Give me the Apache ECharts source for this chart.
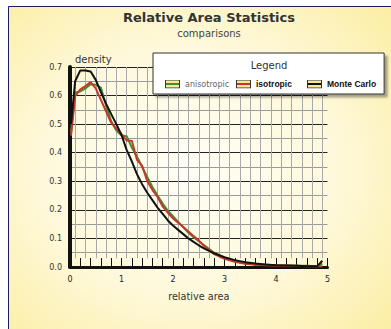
<!DOCTYPE html>
<html>
<head>
<meta charset="utf-8">
<script src="https://cdn.jsdelivr.net/npm/echarts@6/dist/echarts.min.js"></script>
<style>
html,body{margin:0;padding:0;background:#fff;}
#chart{width:391px;height:329px;}
</style>
</head>
<body>
<div id="chart"></div>
<script>
// ---- data ----
var seriesNames = ['anisotropic', 'isotropic', 'Monte Carlo'];
var xs = [0.02, 0.1, 0.2, 0.3, 0.4, 0.5, 0.6, 0.7, 0.8, 0.9, 1.0, 1.1, 1.2, 1.3, 1.4, 1.5, 1.6, 1.7, 1.8, 1.9, 2.0, 2.1, 2.2, 2.3, 2.4, 2.5, 2.6, 2.8, 3.0, 3.2, 3.4, 3.6, 3.8, 4.0, 4.2, 4.4, 4.6, 4.8, 4.9];
var anisotropic = [0.47, 0.61, 0.615, 0.625, 0.64, 0.638, 0.628, 0.565, 0.51, 0.478, 0.46, 0.458, 0.418, 0.386, 0.35, 0.315, 0.28, 0.25, 0.222, 0.197, 0.178, 0.158, 0.139, 0.12, 0.104, 0.09, 0.077, 0.05, 0.032, 0.02, 0.013, 0.009, 0.007, 0.006, 0.005, 0.004, 0.004, 0.003, 0.012];
var isotropic = [0.46, 0.598, 0.622, 0.633, 0.647, 0.625, 0.585, 0.545, 0.505, 0.484, 0.465, 0.443, 0.442, 0.375, 0.355, 0.30, 0.27, 0.245, 0.212, 0.19, 0.17, 0.155, 0.14, 0.124, 0.108, 0.093, 0.074, 0.045, 0.029, 0.018, 0.011, 0.008, 0.006, 0.005, 0.004, 0.004, 0.003, 0.003, 0.003];
var monteCarlo = [0.50, 0.65, 0.688, 0.688, 0.684, 0.655, 0.612, 0.572, 0.535, 0.5, 0.462, 0.41, 0.37, 0.325, 0.29, 0.26, 0.234, 0.208, 0.186, 0.163, 0.145, 0.13, 0.115, 0.1, 0.088, 0.076, 0.065, 0.048, 0.034, 0.024, 0.017, 0.012, 0.009, 0.006, 0.005, 0.004, 0.003, 0.003, 0.022];
var xTickLabels = ['0', '1', '2', '3', '4', '5'];
var yTickLabels = ['0.0', '0.1', '0.2', '0.3', '0.4', '0.5', '0.6', '0.7'];

// ---- styling ----
var colors = ['#3f8f32', '#c8362a', '#111111'];
var seriesData = [anisotropic, isotropic, monteCarlo];

function pairs(ys) { return xs.map(function (x, i) { return [x, ys[i]]; }); }

function iconFor(c) {
  var svg = "<svg xmlns='http://www.w3.org/2000/svg' width='15' height='9'>" +
    "<rect x='0.5' y='0.5' width='14' height='8' fill='#f6e89a' stroke='#333' stroke-width='1'/>" +
    "<line x1='1' y1='4.5' x2='14' y2='4.5' stroke='" + c + "' stroke-width='2'/></svg>";
  return 'image://data:image/svg+xml;charset=utf-8,' + encodeURIComponent(svg);
}

// vertical grid positions (odd tenths)
var vGrid = [];
for (var k = 1; k < 50; k += 2) vGrid.push(k / 10);

var chart = echarts.init(document.getElementById('chart'), null, { renderer: 'svg' });

var series = seriesNames.map(function (n, i) {
  var s = {
    name: n,
    type: 'line',
    data: pairs(seriesData[i]),
    showSymbol: false,
    symbol: 'none',
    lineStyle: { color: colors[i], width: 2 },
    itemStyle: { color: colors[i] },
    animation: false,
    z: 2 + i
  };
  if (i === 0) {
    s.markLine = {
      silent: true,
      z: 1,
      symbol: ['none', 'none'],
      label: { show: false },
      animation: false,
      lineStyle: { color: '#a9a9a9', width: 1, type: 'solid' },
      emphasis: { disabled: true },
      data: vGrid.map(function (v) { return [{ coord: [v, 0.03] }, { coord: [v, 0.7] }]; })
    };
  }
  return s;
});

var fontBold = { fontFamily: 'Liberation Sans', fontWeight: 'bold', fontSize: 8.5, color: '#111', width: 49, lineHeight: 10 };

chart.setOption({
  backgroundColor: '#fff',
  animation: false,
  graphic: [
    {
      type: 'rect', z: -100, silent: true,
      shape: { x: 8.5, y: 6.5, width: 400, height: 340 },
      style: {
        fill: new echarts.graphic.RadialGradient(0.45, 0.48, 0.8, [
          { offset: 0, color: '#fffef6' },
          { offset: 0.45, color: '#fef9dc' },
          { offset: 1, color: '#fbea92' }
        ]),
        stroke: '#1b1b5e', lineWidth: 1
      }
    },
    {
      type: 'text', z: 100, silent: true,
      style: { text: 'Legend', x: 269, y: 65, align: 'center', verticalAlign: 'middle', font: '10px "DejaVu Sans"', fill: '#333' }
    }
  ],
  title: {
    text: 'Relative Area Statistics',
    subtext: 'comparisons',
    left: 204,
    top: 6,
    textAlign: 'center',
    itemGap: 4,
    textStyle: { fontFamily: 'DejaVu Sans', fontWeight: 'bold', fontSize: 13, color: '#333' },
    subtextStyle: { fontFamily: 'DejaVu Sans', fontSize: 10, color: '#444' }
  },
  legend: {
    left: 153,
    top: 53,
    orient: 'horizontal',
    padding: [26, 8, 5, 12],
    itemWidth: 15,
    itemHeight: 9,
    itemGap: 2,
    selectedMode: false,
    backgroundColor: '#fff',
    borderColor: '#333',
    borderWidth: 1,
    shadowColor: 'rgba(0,0,0,0.35)',
    shadowBlur: 2,
    shadowOffsetX: 3,
    shadowOffsetY: 3,
    textStyle: fontBold,
    data: seriesNames.map(function (n, i) {
      var d = { name: n, icon: iconFor(colors[i]) };
      if (i === 0) d.textStyle = { fontFamily: 'DejaVu Sans', fontWeight: 'normal', fontSize: 8, color: '#666', width: 49, lineHeight: 10 };
      return d;
    })
  },
  grid: { left: 70, right: 63.5, top: 67, bottom: 62, containLabel: false },
  xAxis: {
    type: 'value',
    min: 0, max: 5, interval: 1,
    name: 'relative area',
    nameLocation: 'middle',
    nameGap: 24,
    nameTextStyle: { fontFamily: 'DejaVu Sans', fontSize: 9.7, color: '#333' },
    axisLine: { show: true, onZero: false, lineStyle: { color: '#111', width: 3 } },
    axisTick: { show: true, inside: true, length: 9, lineStyle: { color: '#111', width: 1 } },
    minorTick: { show: true, splitNumber: 5, length: 9, lineStyle: { color: '#111', width: 1 } },
    splitLine: { show: false },
    axisLabel: {
      fontFamily: 'DejaVu Sans', fontSize: 8, color: '#222', margin: 8,
      formatter: function (v) { return xTickLabels[Math.round(v)]; }
    }
  },
  yAxis: {
    type: 'value',
    min: 0, max: 0.7, interval: 0.1,
    name: 'density',
    nameLocation: 'end',
    nameGap: 3,
    nameTextStyle: { fontFamily: 'DejaVu Sans', fontSize: 10, color: '#333', align: 'left', verticalAlign: 'bottom', padding: [0, 0, 0, 5] },
    axisLine: { show: true, lineStyle: { color: '#111', width: 4 } },
    axisTick: { show: false },
    minorTick: { show: false, splitNumber: 2 },
    splitLine: { show: true, lineStyle: { color: '#222', width: 1 } },
    minorSplitLine: { show: true, lineStyle: { color: '#9a9a9a', width: 1 } },
    axisLabel: {
      fontFamily: 'DejaVu Sans', fontSize: 8, color: '#333', margin: 8,
      formatter: function (v) { return yTickLabels[Math.round(v * 10)]; }
    }
  },
  series: series
});
</script>
</body>
</html>
